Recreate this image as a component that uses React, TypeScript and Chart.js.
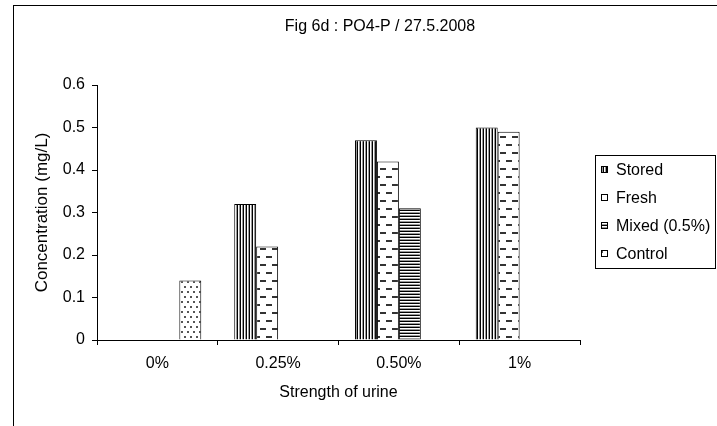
import { useEffect, useRef } from "react";
import { Chart, registerables } from "chart.js";

Chart.register(...registerables);

const categories = ["0%", "0.25%", "0.50%", "1%"];
const seriesLabels = ["Stored", "Fresh", "Mixed (0.5%)", "Control"];
const storedValues = [null, 0.32, 0.47, 0.5];
const freshValues = [null, 0.22, 0.42, 0.49];
const mixedValues = [null, null, 0.31, null];
const controlValues = [0.14, null, null, null];
const yMin = 0;
const yMax = 0.6;
const yStep = 0.1;

const chartTitle = "Fig 6d : PO4-P / 27.5.2008";
const xTitle = "Strength of urine";
const yTitle = "Concentration (mg/L)";

const FONT = '"Liberation Sans", Arial, sans-serif';

function makeTile(w: number, h: number, draw: (c: CanvasRenderingContext2D) => void) {
  const cv = document.createElement("canvas");
  cv.width = w;
  cv.height = h;
  const c = cv.getContext("2d")!;
  c.fillStyle = "#fff";
  c.fillRect(0, 0, w, h);
  draw(c);
  return c.createPattern(cv, "repeat")!;
}

function makePatterns() {
  const stored = makeTile(3, 1, (c) => {
    c.fillStyle = "#000";
    c.fillRect(0, 0, 1, 1);
    c.fillStyle = "#999";
    c.fillRect(2, 0, 1, 1);
  });
  const fresh = makeTile(12, 16, (c) => {
    c.fillStyle = "#333";
    c.fillRect(2, 0, 6, 2);
    c.fillRect(8, 8, 4, 2);
    c.fillRect(0, 8, 2, 2);
  });
  const mixed = makeTile(1, 3, (c) => {
    c.fillStyle = "#000";
    c.fillRect(0, 0, 1, 1);
    c.fillStyle = "#999";
    c.fillRect(0, 2, 1, 1);
  });
  const control = makeTile(6, 10, (c) => {
    c.fillStyle = "#555";
    c.fillRect(1, 1, 2, 2);
    c.fillRect(4, 6, 2, 2);
  });
  return [stored, fresh, mixed, control];
}

export default function App() {
  const ref = useRef<HTMLCanvasElement | null>(null);

  useEffect(() => {
    const canvas = ref.current;
    if (!canvas) return;
    const patterns = makePatterns();
    const seriesValues = [storedValues, freshValues, mixedValues, controlValues];

    const decor = {
      id: "decor",
      beforeDraw(chart: any) {
        const ctx = chart.ctx;
        ctx.save();
        ctx.fillStyle = "#fff";
        ctx.fillRect(0, 0, chart.width, chart.height);
        ctx.strokeStyle = "#000";
        ctx.lineWidth = 1;
        ctx.strokeRect(13.5, 5.5, 900, 900);
        ctx.restore();
      },
      afterDraw(chart: any) {
        const ctx = chart.ctx;
        const area = chart.chartArea;
        ctx.save();
        ctx.fillStyle = "#000";
        ctx.textAlign = "center";
        ctx.textBaseline = "middle";
        ctx.font = `16px ${FONT}`;
        ctx.fillText(chartTitle, 380, 27);
        ctx.fillText(xTitle, (area.left + area.right) / 2, 393);
        ctx.save();
        ctx.translate(42, (area.top + area.bottom) / 2);
        ctx.rotate(-Math.PI / 2);
        ctx.font = `17px ${FONT}`;
        ctx.fillText(yTitle, 0, 0);
        ctx.restore();

        // legend
        const lx = 595, ly = 155, lw = 120, lh = 113;
        ctx.strokeStyle = "#000";
        ctx.lineWidth = 1;
        ctx.strokeRect(lx + 0.5, ly + 0.5, lw, lh);
        ctx.textAlign = "left";
        ctx.font = `16px ${FONT}`;
        chart.data.datasets.forEach((ds: any, i: number) => {
          const cy = ly + 15 + i * 28;
          ctx.fillStyle = ds.backgroundColor;
          ctx.fillRect(lx + 6, cy - 4, 7, 7);
          ctx.strokeStyle = "#000";
          ctx.strokeRect(lx + 6.5, cy - 3.5, 6, 6);
          ctx.fillStyle = "#000";
          ctx.fillText(ds.label, lx + 21, cy + 1);
        });
        ctx.restore();
      },
    };

    const chart = new Chart(canvas, {
      type: "bar",
      data: {
        labels: categories,
        datasets: seriesLabels.map((label, i) => ({
          label,
          data: seriesValues[i],
          backgroundColor: patterns[i],
          borderColor: "#000",
          borderWidth: 1,
          categoryPercentage: 0.727,
          barPercentage: 1,
        })),
      },
      options: {
        animation: false,
        responsive: false,
        devicePixelRatio: 1,
        layout: { padding: { top: 85, right: 137, left: 0, bottom: 0 } },
        plugins: {
          legend: { display: false },
          title: { display: false },
          tooltip: { enabled: false },
        },
        scales: {
          x: {
            grid: { display: true, drawOnChartArea: false, offset: true, tickLength: 5, color: "#000" },
            border: { color: "#000" },
            ticks: { color: "#000", font: { family: FONT, size: 16 }, padding: 9 },
            afterFit: (s: any) => {
              s.height = 86;
            },
          },
          y: {
            min: yMin,
            max: yMax,
            grid: { display: true, drawOnChartArea: false, tickLength: 5, color: "#000" },
            border: { color: "#000" },
            ticks: { stepSize: yStep, color: "#000", font: { family: FONT, size: 16 }, padding: 7 },
            afterFit: (s: any) => {
              s.width = 97;
            },
          },
        },
      },
      plugins: [decor],
    } as any);
    return () => chart.destroy();
  }, []);

  return (
    <div style={{ position: "fixed", left: 0, top: 0, width: 717, height: 426 }}>
      <canvas ref={ref} width={717} height={426} style={{ width: 717, height: 426, display: "block" }} />
    </div>
  );
}
